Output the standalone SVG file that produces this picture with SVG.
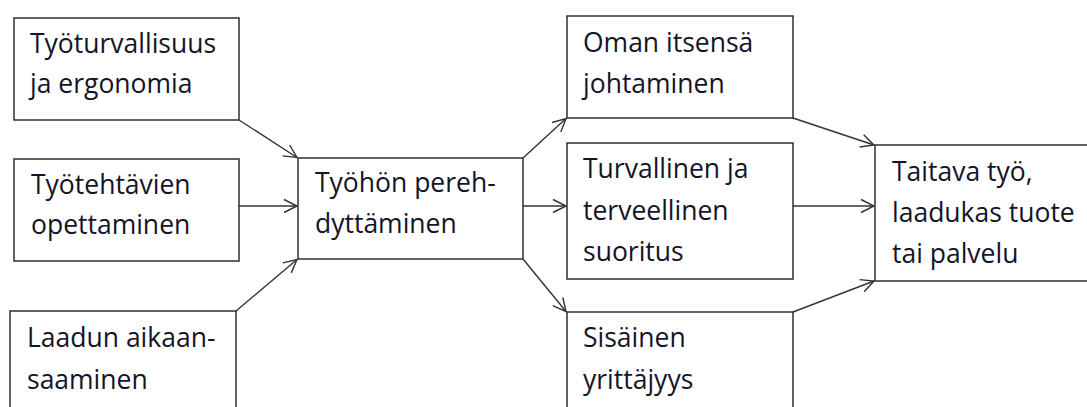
<svg xmlns="http://www.w3.org/2000/svg" width="1087" height="407" viewBox="0 0 1087 407">
<style>
.box{fill:#fff;stroke:#222;stroke-width:1.4}
.t{font-family:"Open Sans","Noto Sans",sans-serif;font-size:26.5px;fill:#141428}
.c line{stroke:#333;stroke-width:1.4;marker-end:url(#ah)}
</style>
<defs>
<marker id="ah" markerUnits="userSpaceOnUse" markerWidth="20" markerHeight="20" viewBox="-15 -10 20 20" refX="0" refY="0" orient="auto">
<path d="M-13,-6.5 L0,0 L-13,6.5" fill="none" stroke="#333" stroke-width="1.4"/>
</marker>
</defs>
<rect width="1087" height="407" fill="#fff"/>
<g class="c">
<line x1="239" y1="120" x2="297" y2="157.5"/>
<line x1="239" y1="206" x2="297" y2="206"/>
<line x1="236" y1="311" x2="297" y2="259.5"/>
<line x1="523" y1="158" x2="566" y2="118.5"/>
<line x1="523" y1="206" x2="566" y2="206"/>
<line x1="523" y1="259" x2="566" y2="311.5"/>
<line x1="793" y1="118" x2="874" y2="145"/>
<line x1="793" y1="206" x2="874" y2="206"/>
<line x1="793" y1="312" x2="874" y2="281"/>
</g>
<g id="n1"><rect class="box" x="14" y="18" width="225" height="102"/><text class="t" x="30" y="53">Työturvallisuus</text><text class="t" x="30" y="93">ja ergonomia</text></g>
<g id="n2"><rect class="box" x="14" y="159" width="225" height="102"/><text class="t" x="31" y="194">Työtehtävien</text><text class="t" x="31" y="234">opettaminen</text></g>
<g id="n3"><rect class="box" x="10" y="311" width="226" height="110"/><text class="t" x="27" y="347">Laadun aikaan-</text><text class="t" x="27" y="389">saaminen</text></g>
<g id="n4"><rect class="box" x="298" y="158" width="225" height="101"/><text class="t" x="315" y="192">Työhön pereh-</text><text class="t" x="315" y="233">dyttäminen</text></g>
<g id="n5"><rect class="box" x="567" y="16" width="226" height="102"/><text class="t" x="583" y="52">Oman itsensä</text><text class="t" x="583" y="93">johtaminen</text></g>
<g id="n6"><rect class="box" x="567" y="143" width="226" height="136"/><text class="t" x="583" y="178">Turvallinen ja</text><text class="t" x="583" y="220">terveellinen</text><text class="t" x="583" y="261">suoritus</text></g>
<g id="n7"><rect class="box" x="567" y="312" width="226" height="110"/><text class="t" x="583" y="347">Sisäinen</text><text class="t" x="583" y="389">yrittäjyys</text></g>
<g id="n8"><rect class="box" x="875" y="145" width="230" height="136"/><text class="t" x="892" y="181">Taitava työ,</text><text class="t" x="892" y="222">laadukas tuote</text><text class="t" x="892" y="263">tai palvelu</text></g>
</svg>
